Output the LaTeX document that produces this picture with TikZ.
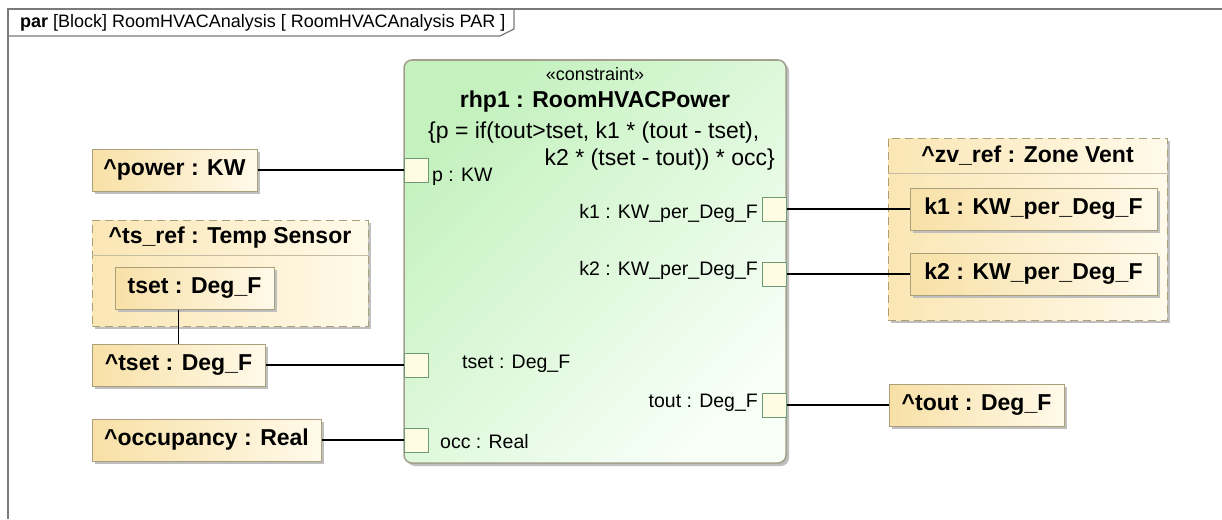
\documentclass[tikz,border=0pt]{standalone}
\usepackage{fontspec}
\setmainfont{Liberation Sans}
\usepackage{xcolor}
\usepackage{tikz}
\usetikzlibrary{positioning,shadows}

\definecolor{framegray}{HTML}{7A7A7A}
\definecolor{parttan}{HTML}{F8E0A6}
\definecolor{partlight}{HTML}{FFFAEA}
\definecolor{partline}{HTML}{ABA07C}
\definecolor{reftan}{HTML}{FBE6B4}
\definecolor{cgreen}{HTML}{C4F1BE}
\definecolor{clight}{HTML}{F7FFF7}
\definecolor{cline}{HTML}{A3A08E}
\definecolor{portfill}{HTML}{FFFCE4}
\definecolor{portline}{HTML}{6E9A72}

\begin{document}
\begin{tikzpicture}[x=1pt, y=-1pt,
  every node/.style={inner sep=0pt},
  boxshadow/.style={drop shadow={shadow xshift=3pt, shadow yshift=-3pt, fill=black!25, opacity=1}},
  part/.style={draw=partline, line width=1pt, left color=parttan, right color=partlight, minimum height=42pt, font=\fontsize{23}{27}\selectfont\bfseries, boxshadow},
  refbox/.style={draw=partline, line width=1pt, dash pattern=on 8pt off 5pt, left color=reftan, right color=partlight, boxshadow},
  hdr/.style={font=\fontsize{23}{27}\selectfont\bfseries, minimum height=36pt},
  block/.style={draw=cline, line width=1.5pt, rounded corners=8pt, left color=cgreen, right color=clight, shading angle=45, boxshadow},
  port/.style={draw=portline, fill=portfill, line width=1pt, minimum size=24pt},
  plabel/.style={font=\fontsize{19.5}{22}\selectfont},
  frame/.style={draw=framegray, line width=1.3pt},
  wire/.style={line width=1.2pt}
]
\useasboundingbox (0,0) rectangle (1222,519);
\clip (0,0) rectangle (1222,519);

\draw[frame] (8,519) -- (8,9) -- (1222,9);
\draw[frame] (8,36) -- (500,36) -- (514,29) -- (514,9);
\node[anchor=west, font=\fontsize{18}{21}\selectfont] (tab) at (20,22.5) {\textbf{par} [Block] RoomHVACAnalysis [ RoomHVACAnalysis PAR ]};

\node[block, minimum width=382pt, minimum height=403pt] (rhp) at (595,261.5) {};
\node[font=\fontsize{18}{21}\selectfont] (stereo) at (595,74) {«constraint»};
\node[font=\fontsize{23}{27}\selectfont\bfseries] (title) at (595,102) {rhp1 : RoomHVACPower};
\node[font=\fontsize{23}{27}\selectfont, anchor=west] (expr1) at (428,133) {\{p = if(tout>tset, k1 * (tout - tset),};
\node[font=\fontsize{23}{27}\selectfont, anchor=east] (expr2) at (775,160) {k2 * (tset - tout)) * occ\}};

\node[port] (pp) at (416,170) {};
\node[port] (pk1) at (774,209) {};
\node[port] (pk2) at (774,274) {};
\node[port] (ptset) at (416,365) {};
\node[port] (ptout) at (774,405) {};
\node[port] (pocc) at (416,440) {};

\node[plabel, anchor=west] (lp) at (432,177) {p : KW};
\node[plabel, anchor=east] (lk1) at (758,213) {k1 : KW\_per\_Deg\_F};
\node[plabel, anchor=east] (lk2) at (758,270) {k2 : KW\_per\_Deg\_F};
\node[plabel, anchor=west] (ltset) at (462,364) {tset : Deg\_F};
\node[plabel, anchor=east] (ltout) at (758,403) {tout : Deg\_F};
\node[plabel, anchor=west] (locc) at (440,442) {occ : Real};

\node[part, minimum width=165pt] (power) at (174.5,170) {\textasciicircum power : KW};
\node[refbox, minimum width=276pt, minimum height=106pt] (tsref) at (230,273) {};
\node[hdr, anchor=north, minimum width=276pt] (tshd) at (tsref.north) {\textasciicircum ts\_ref : Temp Sensor};
\node[part, minimum width=159pt] (itset) at (194.5,288) {tset : Deg\_F};
\node[part, minimum width=173pt] (tset) at (178.5,365) {\textasciicircum tset : Deg\_F};
\node[part, minimum width=229pt] (occ) at (206.5,440) {\textasciicircum occupancy : Real};

\node[refbox, minimum width=279pt, minimum height=182pt] (zvref) at (1027.5,229) {};
\node[hdr, anchor=north, minimum width=279pt] (zvhd) at (zvref.north) {\textasciicircum zv\_ref : Zone Vent};
\node[part, minimum width=247pt] (ik1) at (1033.5,209) {k1 : KW\_per\_Deg\_F};
\node[part, minimum width=247pt] (ik2) at (1033.5,274) {k2 : KW\_per\_Deg\_F};
\node[part, minimum width=175pt] (tout) at (976.5,405) {\textasciicircum tout : Deg\_F};

\draw[partline!70, line width=1pt] (tshd.south west) -- (tshd.south east);
\draw[partline!70, line width=1pt] (zvhd.south west) -- (zvhd.south east);

\draw[wire] (power) -- (pp);
\draw[wire] (tset) -- (ptset);
\draw[wire] (occ) -- (pocc);
\draw[wire] (pk1) -- (ik1);
\draw[wire] (pk2) -- (ik2);
\draw[wire] (ptout) -- (tout);
\draw[wire] (tset.north) -- (tset.north |- itset.south);
\end{tikzpicture}
\end{document}
